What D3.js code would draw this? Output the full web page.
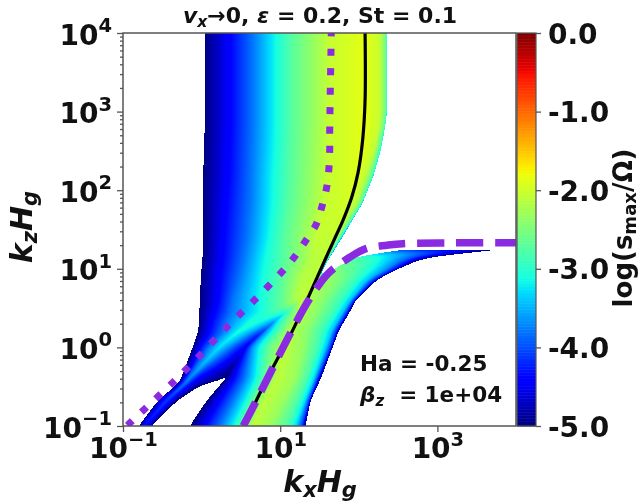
<!DOCTYPE html>
<html>
<head>
<meta charset="utf-8">
<script src="https://cdn.jsdelivr.net/npm/d3@7"></script>
<style>
  html, body { margin: 0; padding: 0; background: #fff; }
  svg { display: block; filter: blur(0.45px); }
  text { font-family: "DejaVu Sans", sans-serif; font-weight: bold; fill: #111; }
</style>
</head>
<body>
<div id="chart"></div>
<script>
// all positions below are log10(kx Hg), log10(kz Hg), values are log10(s_max / Omega)

// upper mode: read across the picture at each kz level
const upperKz = [4, 3.02, 2.83, 2.51, 2.19, 1.84, 1.4, 1.11, 0.92, 0.6, 0.45, 0.32, 0.18, 0.01, -0.2, -0.39, -0.47, -0.67, -1];
const upperKx = [
  [0.04, 0.36, 0.65, 0.91, 1.16, 1.63, 2.08, 2.27, 2.35, 2.36],
  [0.04, 0.36, 0.65, 0.91, 1.16, 1.63, 2.08, 2.27, 2.35, 2.36],
  [0.04, 0.36, 0.65, 0.91, 1.16, 1.63, 2.08, 2.26, 2.33, 2.34],
  [0.03, 0.35, 0.64, 0.9, 1.15, 1.62, 2.05, 2.19, 2.26, 2.28],
  [0.02, 0.34, 0.63, 0.88, 1.14, 1.6, 1.99, 2.09, 2.17, 2.19],
  [0.02, 0.31, 0.62, 0.87, 1.12, 1.57, 1.89, 1.98, 2.04, 2.05],
  [0.02, 0.28, 0.58, 0.83, 1.06, 1.47, 1.7, 1.74, 1.77, 1.79],
  [0.01, 0.26, 0.53, 0.77, 1.06, 1.4, 1.54, 1.58, 1.6, 1.61],
  [-0.01, 0.23, 0.49, 0.74, 1.02, 1.29, 1.47, 1.48, 1.49, 1.51],
  [-0.02, 0.21, 0.4, 0.7, 1, 1.21, 1.34, 1.35, 1.37, 1.38],
  [-0.03, 0.17, 0.38, 0.68, 0.91, 1, 1.06, 1.1, 1.11, 1.13],
  [-0.03, 0.12, 0.31, 0.65, 0.77, 0.84, 0.9, 0.92, 0.93, 0.95],
  [-0.05, 0.09, 0.26, 0.44, 0.55, 0.63, 0.68, 0.71, 0.72, 0.73],
  [-0.11, -0.02, 0.09, 0.23, 0.36, 0.46, 0.55, 0.59, 0.62, 0.63],
  [-0.19, -0.11, -0.05, 0.03, 0.13, 0.26, 0.39, 0.46, 0.47, 0.49],
  [-0.26, -0.22, -0.19, -0.15, -0.06, 0.04, 0.17, 0.26, 0.31, 0.34],
  [-0.31, -0.29, -0.25, -0.22, -0.16, -0.1, -0.05, -0.02, -0.01, 0.01],
  [-0.55, -0.52, -0.48, -0.44, -0.4, -0.36, -0.34, -0.33, -0.31, -0.3],
  [-0.8, -0.77, -0.75, -0.73, -0.71, -0.68, -0.66, -0.65, -0.64, -0.64]
];
const upperS = [
  [-5, -4.4, -3.8, -3.2, -2.7, -2.05, -1.85, -2.05, -2.7, -3.2],
  [-5, -4.4, -3.8, -3.2, -2.7, -2.05, -1.85, -2.05, -2.7, -3.2],
  [-5, -4.4, -3.8, -3.2, -2.7, -2.05, -1.85, -2.05, -2.7, -3.2],
  [-5, -4.4, -3.8, -3.2, -2.7, -2.05, -1.87, -2.05, -2.7, -3.2],
  [-5, -4.4, -3.8, -3.2, -2.7, -2.05, -1.9, -2.1, -2.7, -3.3],
  [-5, -4.4, -3.8, -3.2, -2.7, -2.05, -1.95, -2.2, -2.8, -3.4],
  [-5, -4.4, -3.8, -3.2, -2.7, -2.05, -2.05, -2.4, -3, -3.6],
  [-5, -4.4, -3.8, -3.2, -2.7, -2.15, -2.1, -2.4, -3, -3.6],
  [-5, -4.4, -3.8, -3.2, -2.7, -2.15, -2.1, -2.4, -3, -3.6],
  [-5, -4.4, -3.8, -3.2, -2.7, -2.15, -2.1, -2.4, -3, -3.6],
  [-5, -4.4, -3.8, -3.25, -2.85, -2.95, -3.05, -3.15, -3.2, -3.2],
  [-5, -4.4, -3.8, -3, -3.2, -3.4, -3.6, -3.65, -3.7, -3.7],
  [-5, -4.4, -3.8, -3.1, -3.4, -3.7, -3.95, -4.05, -4.1, -4.1],
  [-5, -4.4, -3.8, -3.25, -3.7, -4.1, -4.4, -4.6, -4.7, -4.7],
  [-5, -4.4, -3.9, -3.45, -3.9, -4.3, -4.7, -4.9, -5, -5],
  [-5, -4.5, -4, -3.7, -4.3, -4.6, -4.8, -4.9, -5, -5],
  [-5, -4.6, -4.1, -3.8, -4.3, -4.6, -4.8, -5, -5, -5],
  [-5, -4.6, -4.3, -4.1, -4.3, -4.6, -4.8, -5, -5, -5],
  [-5, -4.6, -4.4, -4.3, -4.4, -4.6, -4.8, -5, -5, -5]
];

// lower mode, the lobe that flattens out under the dashed curve
const lowerKz = [1.24, 1.21, 1.14, 0.98, 0.86, 0.6, 0.44, 0.22, 0.01, -0.39, -0.67, -1];
const lowerKx = [
  [2.74, 2.74, 2.74, 2.74, 2.74, 2.74, 3.03, 3.41, 3.67, 3.86, 3.96],
  [2.23, 2.23, 2.23, 2.23, 2.23, 2.23, 2.52, 2.78, 3.03, 3.22, 3.38],
  [1.93, 1.93, 1.93, 1.93, 1.93, 1.93, 2.21, 2.42, 2.6, 2.74, 2.83],
  [1.66, 1.66, 1.66, 1.66, 1.66, 1.66, 1.91, 2.14, 2.31, 2.42, 2.46],
  [1.25, 1.32, 1.35, 1.39, 1.43, 1.48, 1.76, 1.95, 2.1, 2.19, 2.23],
  [1.1, 1.13, 1.14, 1.17, 1.2, 1.25, 1.53, 1.77, 1.89, 1.94, 1.96],
  [1.02, 1.05, 1.06, 1.07, 1.12, 1.25, 1.46, 1.68, 1.79, 1.85, 1.88],
  [0.77, 0.81, 0.83, 0.9, 1, 1.14, 1.34, 1.54, 1.66, 1.72, 1.75],
  [0.55, 0.59, 0.64, 0.72, 0.87, 1.06, 1.29, 1.48, 1.58, 1.65, 1.67],
  [0.31, 0.41, 0.55, 0.68, 0.82, 0.97, 1.19, 1.34, 1.43, 1.48, 1.52],
  [0.07, 0.23, 0.4, 0.55, 0.67, 0.81, 1.04, 1.23, 1.32, 1.37, 1.39],
  [-0.15, 0.04, 0.23, 0.39, 0.53, 0.65, 0.87, 1.1, 1.2, 1.28, 1.32]
];
const lowerS = [
  [-4.4, -4.4, -4.4, -4.4, -4.4, -4.4, -4.6, -4.7, -4.8, -4.9, -5],
  [-3.3, -3.3, -3.3, -3.3, -3.3, -3.3, -3.6, -4, -4.4, -4.7, -5],
  [-2.75, -2.75, -2.75, -2.75, -2.75, -2.75, -3, -3.4, -3.9, -4.5, -5],
  [-2.45, -2.45, -2.45, -2.45, -2.45, -2.45, -2.7, -3.1, -3.6, -4.3, -5],
  [-4, -3.6, -3, -2.7, -2.4, -2.2, -2.5, -2.9, -3.4, -4.2, -5],
  [-5, -4.4, -3.8, -3.2, -2.6, -2.1, -2.4, -2.9, -3.4, -4.2, -5],
  [-3.3, -3.2, -3.1, -3, -2.7, -2.15, -2.4, -2.9, -3.4, -4.2, -5],
  [-4.2, -4, -3.7, -3.2, -2.7, -2.15, -2.4, -2.9, -3.4, -4.2, -5],
  [-4.6, -4.2, -3.7, -3.2, -2.6, -2.1, -2.35, -2.85, -3.35, -4.2, -5],
  [-5, -4.4, -3.8, -3.2, -2.6, -2.1, -2.3, -2.8, -3.3, -4.1, -5],
  [-5, -4.4, -3.8, -3.2, -2.6, -2.1, -2.3, -2.8, -3.3, -4.1, -5],
  [-5, -4.4, -3.8, -3.2, -2.6, -2.1, -2.3, -2.8, -3.3, -4.1, -5]
];

// overlaid curves
const solidKx = [2.08, 2.08, 2.05, 1.99, 1.91, 1.8, 1.7, 1.51, 1.34, 1.16, 0.91, 0.68, 0.55];
const solidKz = [4, 3.15, 2.65, 2.22, 1.91, 1.62, 1.4, 0.98, 0.6, 0.22, -0.25, -0.71, -1];
const dashedKx = [0.53, 0.68, 1.12, 1.35, 1.51, 1.63, 1.89, 2.1, 2.36, 2.56, 3.2, 4];
const dashedKz = [-1, -0.71, 0.16, 0.58, 0.82, 0.96, 1.15, 1.26, 1.3, 1.32, 1.33, 1.33];
const dottedKx = [-1, -0.91, -0.72, -0.36, -0.02, 0.32, 0.67, 1.02, 1.18, 1.32, 1.46, 1.53, 1.59, 1.62, 1.63, 1.63, 1.65];
const dottedKz = [-1.05, -0.96, -0.78, -0.44, -0.1, 0.26, 0.6, 0.96, 1.15, 1.35, 1.57, 1.79, 2.03, 2.28, 2.52, 2.76, 4];

const xTicks = [-1, 1, 3];
const yTicks = [-1, 0, 1, 2, 3, 4];
const barTicks = [0, -1, -2, -3, -4, -5];

// jet colormap
const jetPos = [0, 0.11, 0.125, 0.34, 0.35, 0.375, 0.64, 0.65, 0.66, 0.89, 0.91, 1];
const jetHex = ["#00007f", "#0000ff", "#0000ff", "#00dbff", "#00e5f7", "#14ffe2", "#eeff08", "#f7f500", "#ffec00", "#ff1300", "#e80000", "#7f0000"];

const width = 641, height = 502;
const margin = { top: 33, left: 123, plot: 393 };
const barX = 517, barW = 19;

const x = d3.scaleLinear().domain([-1, 4]).range([margin.left, margin.left + margin.plot]);
const y = d3.scaleLinear().domain([-1, 4]).range([margin.top + margin.plot, margin.top]);
const sScale = d3.scaleLinear().domain([-5, 0]).range([margin.top + margin.plot, margin.top]);
const color = d3.scaleLinear()
  .domain(jetPos.map((t) => -5 + 5 * t))
  .range(jetHex);

const svg = d3.select("#chart").append("svg").attr("width", width).attr("height", height);

// one transect of a mode at height kz
function rowAt(kz, rowsKz, rowsKx, rowsS) {
  const last = rowsKz.length - 1;
  const z = Math.min(rowsKz[0], Math.max(rowsKz[last], kz));
  let i = 0;
  while (i < last - 1 && z < rowsKz[i + 1]) i++;
  const t = (rowsKz[i] - z) / (rowsKz[i] - rowsKz[i + 1]);
  return {
    xs: rowsKx[i].map((v, j) => v * (1 - t) + rowsKx[i + 1][j] * t),
    ss: rowsS[i].map((v, j) => v * (1 - t) + rowsS[i + 1][j] * t),
  };
}

// same, with the corners between the read rows rounded off
const smoothSteps = [-0.06, -0.03, 0, 0.03, 0.06];
const smoothWeights = [1, 2, 3, 2, 1];
function smoothRow(kz, rowsKz, rowsKx, rowsS) {
  if (kz > rowsKz[0] || kz < rowsKz[rowsKz.length - 1]) return null;
  const rows = smoothSteps.map((d) => rowAt(kz + d, rowsKz, rowsKx, rowsS));
  const mean = (key, j) => d3.sum(rows, (r, k) => r[key][j] * smoothWeights[k]) / d3.sum(smoothWeights);
  return {
    xs: rowsKx[0].map((_, j) => mean("xs", j)),
    ss: rowsKx[0].map((_, j) => mean("ss", j)),
  };
}

function rowValue(row, kx) {
  if (!row) return null;
  const n = row.xs.length;
  if (kx < row.xs[0] || kx > row.xs[n - 1]) return null;
  for (let j = 1; j < n; j++) {
    if (kx <= row.xs[j]) {
      const dx = row.xs[j] - row.xs[j - 1];
      const f = dx > 0 ? (kx - row.xs[j - 1]) / dx : 1;
      return row.ss[j - 1] + (row.ss[j] - row.ss[j - 1]) * f;
    }
  }
  return row.ss[n - 1];
}

// heatmap goes on a canvas, then into the svg as an image
const canvas = d3.create("canvas").attr("width", margin.plot).attr("height", margin.plot).node();
const ctx = canvas.getContext("2d");
const img = ctx.createImageData(margin.plot, margin.plot);
for (let r = 0; r < margin.plot; r++) {
  const kz = y.invert(margin.top + r + 0.5);
  const upperRow = smoothRow(kz, upperKz, upperKx, upperS);
  const lowerRow = smoothRow(kz, lowerKz, lowerKx, lowerS);
  for (let c = 0; c < margin.plot; c++) {
    const kx = x.invert(margin.left + c + 0.5);
    const a = rowValue(upperRow, kx);
    const b = rowValue(lowerRow, kx);
    if (a === null && b === null) continue;
    const rgb = d3.rgb(color(Math.max(a === null ? -9 : a, b === null ? -9 : b)));
    const k = (r * margin.plot + c) * 4;
    img.data[k] = rgb.r;
    img.data[k + 1] = rgb.g;
    img.data[k + 2] = rgb.b;
    img.data[k + 3] = 255;
  }
}
ctx.putImageData(img, 0, 0);

svg.append("image")
  .attr("x", margin.left)
  .attr("y", margin.top)
  .attr("width", margin.plot)
  .attr("height", margin.plot)
  .attr("href", canvas.toDataURL());

svg.append("clipPath").attr("id", "plot-clip")
  .append("rect")
  .attr("x", margin.left)
  .attr("y", margin.top)
  .attr("width", margin.plot)
  .attr("height", margin.plot);

const line = d3.line().x((d) => x(d[0])).y((d) => y(d[1])).curve(d3.curveCatmullRom);
const lines = svg.append("g").attr("clip-path", "url(#plot-clip)").attr("fill", "none");

lines.append("path")
  .attr("d", line(d3.zip(solidKx, solidKz)))
  .attr("stroke", "#000")
  .attr("stroke-width", 3.2);

const dotted = lines.append("path")
  .attr("d", line(d3.zip(dottedKx, dottedKz)))
  .attr("stroke", "#8a2be2")
  .attr("stroke-width", 7);
// 24 gaps between the first dot and the one on the top edge
const dotPeriod = (dotted.node().getTotalLength() - 9.9) / 24;
dotted.attr("stroke-dasharray", `7,${dotPeriod - 7}`).attr("stroke-dashoffset", -6.4);

const dashed = lines.append("path")
  .attr("d", line(d3.zip(dashedKx, dashedKz)))
  .attr("stroke", "#8a2be2")
  .attr("stroke-width", 7.5);
// last dash starts about 21px before the right edge
const dashLength = dashed.node().getTotalLength() - 21;
const dashPeriod = dashLength / Math.round(dashLength / 38.5);
dashed.attr("stroke-dasharray", `27,${dashPeriod - 27}`);

// frame
svg.append("rect")
  .attr("x", margin.left)
  .attr("y", margin.top)
  .attr("width", margin.plot)
  .attr("height", margin.plot)
  .attr("fill", "none")
  .attr("stroke", "#555")
  .attr("stroke-width", 1.5);

// 10^n labels with a real superscript
function powerLabel(sel) {
  sel.each(function (d) {
    const t = d3.select(this).text(null);
    t.append("tspan").text("10");
    t.append("tspan")
      .attr("font-size", 19.5)
      .attr("dy", -12.5)
      .text(d < 0 ? "\u2212" + Math.abs(d) : d);
  });
}

const xAxis = svg.append("g")
  .attr("transform", `translate(0,${margin.top + margin.plot})`)
  .call(d3.axisBottom(x).tickValues(xTicks).tickSize(6).tickPadding(4));
xAxis.selectAll("text").attr("font-size", 28).attr("dy", null).attr("y", 32).call(powerLabel);

const yAxis = svg.append("g")
  .attr("transform", `translate(${margin.left},0)`)
  .call(d3.axisLeft(y).tickValues(yTicks).tickSize(6).tickPadding(5));
yAxis.selectAll("text").attr("font-size", 28).attr("dy", 11).call(powerLabel);

// minor log ticks on the y side only
const minorY = [];
yTicks.slice(0, -1).forEach((e) => {
  d3.range(2, 10).forEach((m) => minorY.push(e + Math.log10(m)));
});
svg.append("g")
  .attr("transform", `translate(${margin.left},0)`)
  .call(d3.axisLeft(y).tickValues(minorY).tickSize(3).tickFormat(""));

svg.selectAll(".domain").remove();
svg.selectAll(".tick line").attr("stroke", "#555").attr("stroke-width", 1.3);

// colour bar
svg.append("g")
  .selectAll("rect")
  .data(d3.range(256))
  .join("rect")
  .attr("x", barX)
  .attr("width", barW)
  .attr("y", (d) => sScale(-5 + (d + 1) * 5 / 256))
  .attr("height", margin.plot / 256 + 0.5)
  .attr("fill", (d) => color(-5 + (d + 0.5) * 5 / 256));

svg.append("rect")
  .attr("x", barX)
  .attr("y", margin.top)
  .attr("width", barW)
  .attr("height", margin.plot)
  .attr("fill", "none")
  .attr("stroke", "#555")
  .attr("stroke-width", 1.2);

const barAxis = svg.append("g")
  .attr("transform", `translate(${barX + barW},0)`)
  .call(d3.axisRight(sScale).tickValues(barTicks).tickSize(5).tickPadding(7).tickFormat(d3.format(".1f")));
barAxis.select(".domain").remove();
barAxis.selectAll(".tick line").attr("stroke", "#555").attr("stroke-width", 1.3);
barAxis.selectAll("text")
  .attr("font-size", 28)
  .attr("dy", 10)
  .text((d) => d3.format(".1f")(d).replace("\u2212", "-"));

// titles and notes
const title = svg.append("text").attr("x", 320).attr("y", 23).attr("text-anchor", "middle").attr("font-size", 22);
title.append("tspan").attr("font-style", "italic").text("v");
title.append("tspan").attr("font-style", "italic").attr("font-size", 15.5).attr("dy", 4).text("x");
title.append("tspan").attr("dy", -4).text("\u21920, ");
title.append("tspan").attr("font-style", "italic").text("\u03b5");
title.append("tspan").text(" = 0.2, St = 0.1");

function kLabel(g, sub) {
  g.attr("font-size", 30).attr("font-style", "italic");
  g.append("tspan").text("k");
  g.append("tspan").attr("font-size", 21).attr("dy", 5).text(sub);
  g.append("tspan").attr("dy", -5).text("H");
  g.append("tspan").attr("font-size", 21).attr("dy", 5).text("g");
}

kLabel(svg.append("text").attr("x", 320).attr("y", 492).attr("text-anchor", "middle"), "x");
kLabel(svg.append("text").attr("transform", "translate(32,227) rotate(-90)").attr("text-anchor", "middle"), "z");

const barLabel = svg.append("text")
  .attr("transform", "translate(632,228) rotate(-90)")
  .attr("text-anchor", "middle")
  .attr("font-size", 26);
barLabel.append("tspan").text("log(s");
barLabel.append("tspan").attr("font-size", 18).attr("dy", 4).text("max");
barLabel.append("tspan").attr("dy", -4).text("/\u03a9)");

svg.append("text").attr("x", 360).attr("y", 371).attr("font-size", 21.5).text("Ha = -0.25");
const beta = svg.append("text").attr("x", 360).attr("y", 402).attr("font-size", 21.5);
beta.append("tspan").attr("font-style", "italic").text("\u03b2");
beta.append("tspan").attr("font-style", "italic").attr("font-size", 15).attr("dy", 4).text("z");
beta.append("tspan").attr("dy", -4).attr("dx", 15).text("= 1e+04");
</script>
</body>
</html>
